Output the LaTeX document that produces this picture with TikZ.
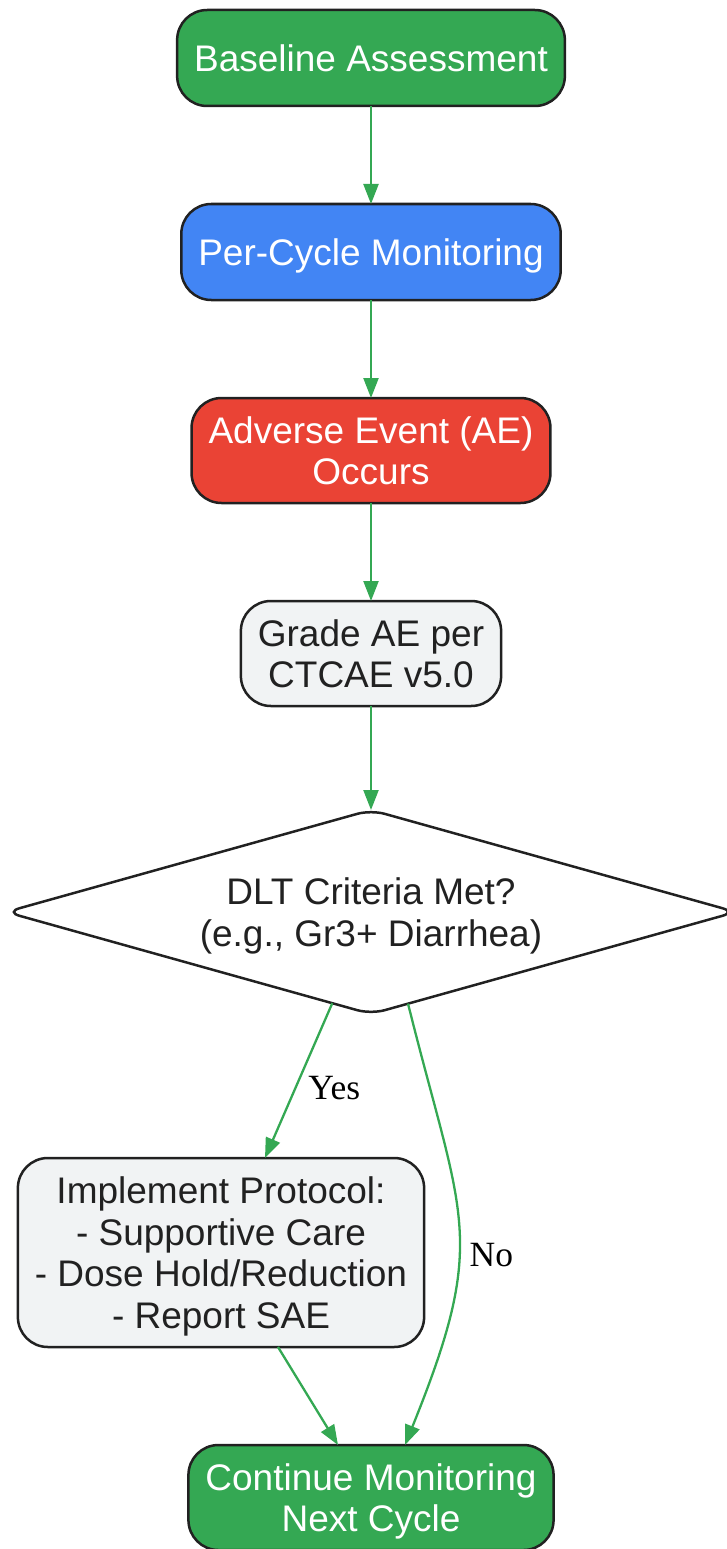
\documentclass[tikz,border=0pt]{standalone}
\usepackage{fontspec}
\setmainfont{Liberation Sans}
\newfontfamily\lblfont{Liberation Serif}
\usepackage{xcolor}
\usetikzlibrary{shapes.geometric}
\usetikzlibrary{positioning, arrows.meta}

\definecolor{gGreen}{HTML}{34A853}
\definecolor{gBlue}{HTML}{4285F4}
\definecolor{gRed}{HTML}{EA4335}
\definecolor{gGray}{HTML}{F1F3F4}
\definecolor{inkDark}{HTML}{212121}

\begin{document}
\begin{tikzpicture}[x=1pt, y=1pt, node distance={98pt},
        main/.style = {draw=inkDark, line width=2.5pt, rounded corners=30pt, minimum height=96pt, inner xsep=17pt, inner ysep=2pt, outer sep=0pt, text depth=-7.5pt, align=center, text=inkDark, font=\fontsize{37}{41.5}\selectfont},
        two/.style = {minimum height=105pt},
        decision/.style = {draw=inkDark, line width=2.5pt, diamond, shape aspect=3.4, rounded corners=14pt, minimum width=730pt, minimum height=204pt, inner sep=0pt, outer sep=0pt, text depth=-7.5pt, align=center, text=inkDark, font=\fontsize{37}{41.5}\selectfont},
        flow/.style = {draw=gGreen, line width=2.3pt, -{Triangle[length=20pt, width=15pt]}},
        lbl/.style = {inner sep=0pt, text=black, font=\lblfont\fontsize{35.5}{40}\selectfont}]
                \useasboundingbox (0,0) rectangle (726,-1549);
                % Nodes
                \node[main, fill=gGreen, text=white] (base) at (371,-58) {Baseline Assessment};
                \node[main, fill=gBlue, text=white] (cycle) [below=of base] {Per-Cycle Monitoring};
                \node[main, two, fill=gRed, text=white] (ae) [below=of cycle] {Adverse Event (AE)\\Occurs};
                \node[main, two, fill=gGray] (grade) [below=of ae] {Grade AE per\\CTCAE v5.0};
                \node[decision] (dlt) [below=104pt of grade] {DLT Criteria Met?\\(e.g., Gr3+ Diarrhea)};
                \node[main, fill=gGray, minimum height=189pt] (impl) [below=144pt of dlt, xshift=-150pt] {Implement Protocol:\\- Supportive Care\\- Dose Hold/Reduction\\- Report SAE};
                \node[main, two, fill=gGreen, text=white] (cont) [below=of impl, xshift=150pt] {Continue Monitoring\\Next Cycle};

                % Lines
                \draw[flow] (base) -- (cycle);
                \draw[flow] (cycle) -- (ae);
                \draw[flow] (ae) -- (grade);
                \draw[flow] (grade) -- (dlt);
                \draw[flow] (dlt.-113) -- node[lbl, pos=0.55, right=12pt] {Yes} ([xshift=44pt]impl.north);
                \draw[flow] (dlt.-68) to [out=-76, in=68, looseness=1.3] node[lbl, pos=0.58, right=10pt] {No} ([xshift=34pt]cont.north);
                \draw[flow] ([xshift=57pt]impl.south) -- ([xshift=-33pt]cont.north);
            \end{tikzpicture}
\end{document}
